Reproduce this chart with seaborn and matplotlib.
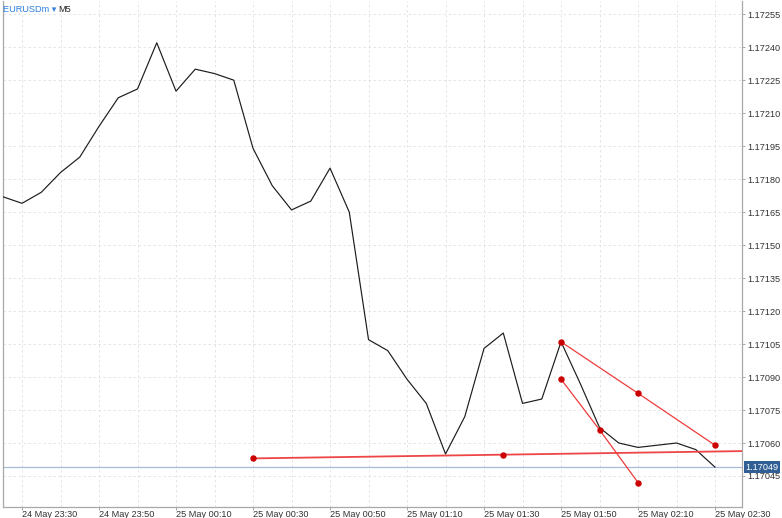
import matplotlib

matplotlib.use("Agg")
import matplotlib.dates as mdates
import matplotlib.pyplot as plt
import matplotlib.ticker as mticker
import matplotlib.transforms as mtransforms
import pandas as pd
import seaborn as sns

# M5 closes, 24 May 23:25 -> 25 May 02:30
times = pd.date_range("2025-05-24 23:25", periods=38, freq="5min")
closes = [
    1.17172, 1.17169, 1.17174, 1.17183, 1.17190, 1.17204, 1.17217, 1.17221,
    1.17242, 1.17220, 1.17230, 1.17228, 1.17225, 1.17194, 1.17177, 1.17166,
    1.17170, 1.17185, 1.17165, 1.17107, 1.17102, 1.17089, 1.17078, 1.17055,
    1.17072, 1.17103, 1.17110, 1.17078, 1.17080, 1.17106, 1.17087, 1.17067,
    1.17060, 1.17058, 1.17059, 1.17060, 1.17057, 1.17049,
]
current_price = 1.17049

# drawn objects
trend_times = pd.to_datetime(["2025-05-25 00:30", "2025-05-25 01:35"])
trend_prices = [1.17053, 1.170547]
upper_times = pd.to_datetime(["2025-05-25 01:50", "2025-05-25 02:10", "2025-05-25 02:30"])
upper_prices = [1.17106, 1.170826, 1.17059]
lower_times = pd.to_datetime(["2025-05-25 01:50", "2025-05-25 02:00", "2025-05-25 02:10"])
lower_prices = [1.17089, 1.17066, 1.17042]

x_start = pd.Timestamp("2025-05-24 23:25")
x_end = pd.Timestamp("2025-05-25 02:37")
y_min, y_max = 1.170309, 1.172610

sns.set_theme(style="white")
plt.rcParams["font.family"] = ["Liberation Sans", "DejaVu Sans"]

W, H = 782, 518
fig = plt.figure(figsize=(W / 100, H / 100), dpi=100)
ax = fig.add_axes([2.75 / W, 1 - 507 / H, (742 - 2.75) / W, (507 - 1) / H])

df = pd.DataFrame({"time": times, "close": closes})
sns.lineplot(data=df, x="time", y="close", ax=ax, color="#1c1c1c", linewidth=0.85, zorder=3)

ax.axhline(current_price, color="#a7bbd8", linewidth=0.9, zorder=2)

# trendline ray to the right edge
slope = (trend_prices[1] - trend_prices[0]) / (trend_times[1] - trend_times[0]).total_seconds()
ray_end = trend_prices[0] + slope * (x_end - trend_times[0]).total_seconds()
ax.plot([trend_times[0], x_end], [trend_prices[0], ray_end], color="#ee4646", linewidth=1.3, zorder=4)
ax.plot(trend_times, trend_prices, "o", color="#cc0000", markersize=3.6, zorder=5)

for tt, pp in [(upper_times, upper_prices), (lower_times, lower_prices)]:
    ax.plot(tt, pp, color="#ee3b3b", linewidth=0.9, zorder=4)
    ax.plot(tt, pp, "o", color="#cc0000", markersize=3.6, zorder=5)

ax.set_xlim(x_start, x_end)
ax.set_ylim(y_min, y_max)
ax.set_xlabel("")
ax.set_ylabel("")

grid_kw = dict(color="#e0e0e0", linestyle=(0, (3, 3)), linewidth=0.6)
ax.xaxis.set_major_locator(mdates.MinuteLocator(byminute=[10, 30, 50]))
ax.xaxis.set_minor_locator(mdates.MinuteLocator(byminute=[0, 20, 40]))
ax.xaxis.set_major_formatter(mdates.DateFormatter("%d %b %H:%M"))
ax.yaxis.set_major_locator(mticker.MultipleLocator(0.00015))
ax.yaxis.set_major_formatter(mticker.FormatStrFormatter("%.5f"))
ax.yaxis.tick_right()
ax.grid(True, which="both", axis="x", **grid_kw)
ax.grid(True, which="major", axis="y", **grid_kw)
ax.set_axisbelow(True)

ax.tick_params(axis="x", which="major", bottom=True, length=2, width=0.6, color="#9a9a9a",
               pad=0.3, labelsize=6.6, labelcolor="#333333")
ax.tick_params(axis="x", which="minor", bottom=False)
ax.tick_params(axis="y", right=True, length=2, width=0.6, color="#9a9a9a",
               pad=1.5, labelsize=6.6, labelcolor="#333333")
for lab in ax.get_xticklabels():
    lab.set_horizontalalignment("left")

for side in ["left", "bottom", "right"]:
    ax.spines[side].set_color("#a8a8a8")
    ax.spines[side].set_linewidth(0.9)
ax.spines["top"].set_visible(False)

# current price tag
trans = mtransforms.blended_transform_factory(ax.transAxes, ax.transData)
ax.text(1.0045, current_price, f"{current_price:.5f}", transform=trans, ha="left", va="center",
        fontsize=6.6, color="white", zorder=6, clip_on=False,
        bbox=dict(boxstyle="square,pad=0.15", facecolor="#2f5f95", edgecolor="none"))

fig.text(3 / W, 1 - 9 / H, "EURUSDm \u25be", color="#2d7fe0", fontsize=6.6, ha="left", va="center")
fig.text(58.5 / W, 1 - 9 / H, "M5", color="#222222", fontsize=6.6, ha="left", va="center")

fig.savefig("out.png", dpi=100)
